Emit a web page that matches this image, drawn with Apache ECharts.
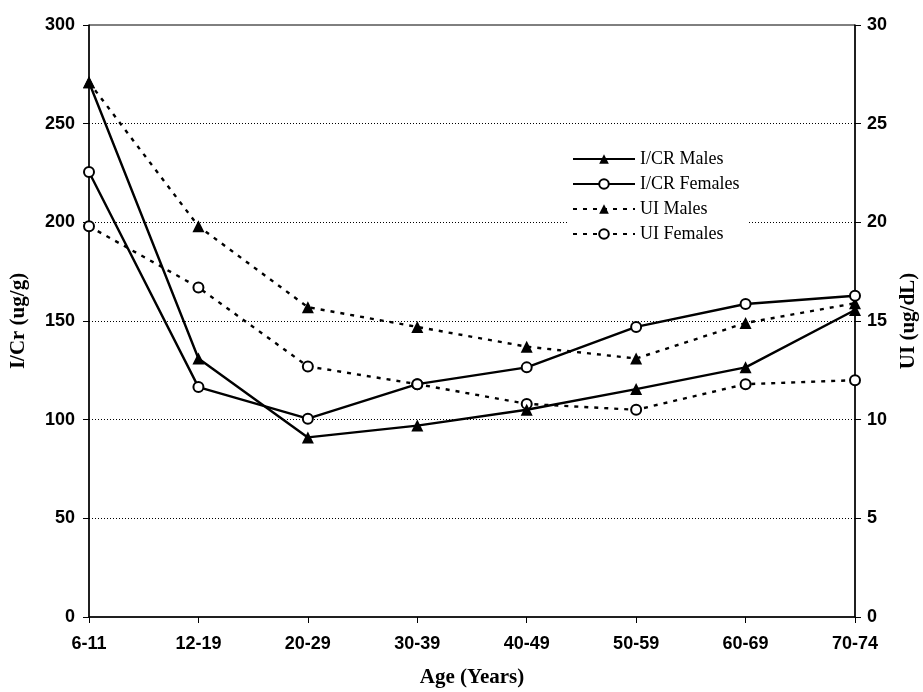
<!DOCTYPE html>
<html><head><meta charset="utf-8">
<script src="https://cdn.jsdelivr.net/npm/echarts@6/dist/echarts.min.js"></script>
<style>html,body{margin:0;padding:0;background:#fff}#c{width:923px;height:692px}</style>
</head><body><div id="c"></div>
<script>
const categories = ['6-11','12-19','20-29','30-39','40-49','50-59','60-69','70-74'];
const icrMales = [271, 131, 91, 97, 105, 115.5, 126.5, 155.6];
const icrFemales = [225.5, 116.5, 100.5, 118, 126.5, 147, 158.6, 162.8];
const uiMales = [27.1, 19.8, 15.7, 14.7, 13.7, 13.1, 14.9, 15.9];
const uiFemales = [19.8, 16.7, 12.7, 11.8, 10.8, 10.5, 11.8, 12.0];
const leftTicks = [0, 50, 100, 150, 200, 250, 300];
const rightTicks = [0, 5, 10, 15, 20, 25, 30];
const gridValues = [50, 100, 150, 200, 250];

const chart = echarts.init(document.getElementById('c'));
const tickFont = {fontFamily:'Liberation Sans, Arial, sans-serif', fontWeight:'bold', fontSize:18, color:'#000'};
const nameFont = {fontFamily:'Liberation Serif, Times New Roman, serif', fontWeight:'bold', fontSize:21, color:'#000'};
function mk(name, data, yIdx, sym, dashed){
  return {
    name, type:'line', data, yAxisIndex:yIdx, symbol:sym,
    symbolSize: sym==='triangle'?12:10,
    showSymbol:true,
    lineStyle:{color:'#000', width:2.4, type: dashed?[4,6]:'solid'},
    itemStyle:{color: sym==='triangle'?'#000':'#fff', borderColor:'#000', borderWidth: sym==='triangle'?0:2},
    z: dashed?3:4,
    animation:false
  };
}
const series = [
  mk('I/CR Males', icrMales, 0, 'triangle', false),
  mk('I/CR Females', icrFemales, 0, 'circle', false),
  mk('UI Males', uiMales, 1, 'triangle', true),
  mk('UI Females', uiFemales, 1, 'circle', true)
];
series[0].markLine = {
  silent:true, symbol:'none', label:{show:false}, z:1,
  lineStyle:{color:'#000', width:1, type:[1,2]},
  data: gridValues.map(v => ({yAxis:v}))
};
chart.setOption({
  animation:false,
  backgroundColor:'#fff',
  grid:{left:89, right:68, top:25, bottom:75, containLabel:false, outerBoundsMode:'none',
        show:true, borderColor:'#000', borderWidth:1, backgroundColor:'transparent'},
  legend:{
    orient:'vertical', left:568, top:146, itemGap:7, itemWidth:62, itemHeight:12,
    backgroundColor:'#fff', padding:[4,8,4,4], z:10,
    textStyle:{fontFamily:'Liberation Serif, Times New Roman, serif', fontSize:18, color:'#000'},
    data:['I/CR Males','I/CR Females','UI Males','UI Females']
  },
  xAxis:{
    type:'category', data:categories, boundaryGap:false,
    name:'Age (Years)', nameLocation:'middle', nameGap:50, nameTextStyle:nameFont,
    axisLine:{lineStyle:{color:'#000', width:1.5}},
    axisTick:{alignWithLabel:true, length:6, lineStyle:{color:'#000'}},
    axisLabel:Object.assign({margin:18}, tickFont),
    splitLine:{show:false}
  },
  yAxis:[
    {type:'value', min:0, max:300, interval:50, position:'left',
     name:'I/Cr (ug/g)', nameLocation:'middle', nameGap:60, nameRotate:90, nameTextStyle:nameFont,
     axisLine:{show:true, lineStyle:{color:'#000', width:1.5}},
     axisTick:{show:true, length:6, lineStyle:{color:'#000'}},
     axisLabel:Object.assign({margin:14}, tickFont),
     splitLine:{show:false}
    },
    {type:'value', min:0, max:30, interval:5, position:'right',
     name:'UI (ug/dL)', nameLocation:'middle', nameGap:40, nameRotate:90, nameTextStyle:nameFont,
     axisLine:{show:true, lineStyle:{color:'#000', width:1.5}},
     axisTick:{show:true, length:6, lineStyle:{color:'#000'}},
     axisLabel:Object.assign({margin:12}, tickFont),
     splitLine:{show:false}
    }
  ],
  series
});
</script></body></html>
